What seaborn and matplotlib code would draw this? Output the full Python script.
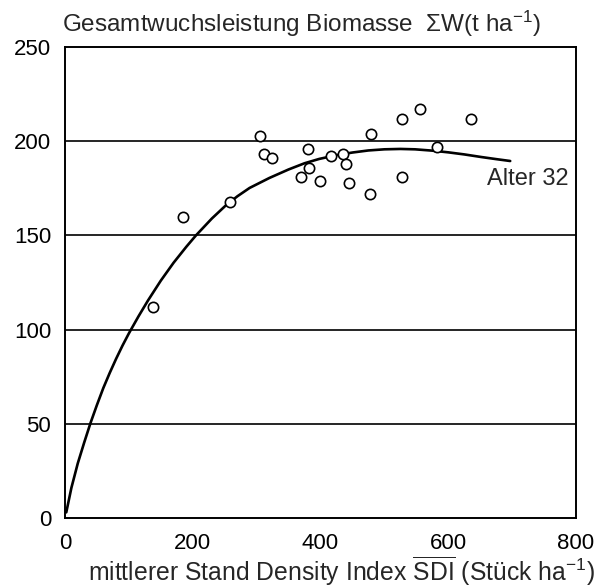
import matplotlib
matplotlib.use("Agg")
import matplotlib.pyplot as plt
import seaborn as sns
import pandas as pd

# Messpunkte (SDI, Biomasse)
sdi_obs = [138, 184, 258, 305, 311, 324, 369, 380, 382, 399, 416,
           436, 440, 444, 478, 479, 528, 528, 556, 583, 635]
biomasse_obs = [112, 160, 168, 203, 193, 191, 181, 196, 186, 179, 192,
                193, 188, 178, 172, 204, 212, 181, 217, 197, 212]

# Ausgleichskurve Alter 32
sdi_fit = [2, 10, 20, 30, 40, 50, 60, 70, 80, 90, 100, 115, 130, 150,
           170, 190, 205, 230, 252, 270, 289, 320, 350, 375, 398, 425,
           450, 475, 500, 525, 548, 575, 600, 625, 652, 675, 697]
biomasse_fit = [3, 16, 29, 40, 50.5, 60, 69, 77, 84.5, 91.5, 98, 107,
                115.5, 126, 135.5, 144, 150, 159, 166, 170.8, 175.2,
                180.5, 185, 188.3, 190.6, 192.6, 194, 195.1, 195.7,
                195.9, 195.7, 195, 194.1, 193, 191.6, 190.5, 189.5]

x_ticks = [0, 200, 400, 600, 800]
y_ticks = [0, 50, 100, 150, 200, 250]

sns.set_theme(style="white")
plt.rcParams['font.family'] = ['Liberation Sans', 'DejaVu Sans']
plt.rcParams['mathtext.fontset'] = 'custom'
plt.rcParams['mathtext.rm'] = 'Liberation Sans'
plt.rcParams['mathtext.it'] = 'Liberation Sans'

df_obs = pd.DataFrame({'sdi': sdi_obs, 'w': biomasse_obs})
df_fit = pd.DataFrame({'sdi': sdi_fit, 'w': biomasse_fit})

fig = plt.figure(figsize=(5.99, 5.87), dpi=100)
ax = fig.add_axes([0.1085, 0.1175, 0.8531, 0.8024])

# horizontale Gitterlinien
for yv in y_ticks[1:-1]:
    ax.axhline(yv, color='black', lw=1.2, zorder=1)

sns.lineplot(data=df_fit, x='sdi', y='w', color='black', lw=1.9, ax=ax,
             zorder=3, sort=False)
sns.scatterplot(data=df_obs, x='sdi', y='w', marker='o', s=55,
                facecolor='white', edgecolor='black', linewidth=1.2,
                ax=ax, zorder=4)

ax.text(660, 180, 'Alter 32', fontsize=17, va='center', ha='left')

ax.set_xlim(0, 800)
ax.set_ylim(0, 250)
ax.set_xticks(x_ticks)
ax.set_yticks(y_ticks)
ax.tick_params(axis='both', labelsize=16, direction='out', color='black',
               width=1.2, colors='black')
ax.tick_params(axis='x', length=6, pad=5)
ax.tick_params(axis='y', length=4, pad=6)

for sp in ax.spines.values():
    sp.set_color('black')
    sp.set_linewidth(1.4)

ax.set_ylabel('')
ax.set_xlabel(r'mittlerer Stand Density Index $\overline{\mathrm{SDI}}$ (Stück ha$^{-1}$)',
              fontsize=17.8, ha='right', va='baseline')
ax.xaxis.set_label_coords(1.037, -0.134)

fig.text(62 / 599, 1 - 32 / 587,
         r'Gesamtwuchsleistung Biomasse  ΣW(t ha$^{-1}$)',
         fontsize=17.5, ha='left', va='baseline')

fig.savefig('out.png', dpi=100)
